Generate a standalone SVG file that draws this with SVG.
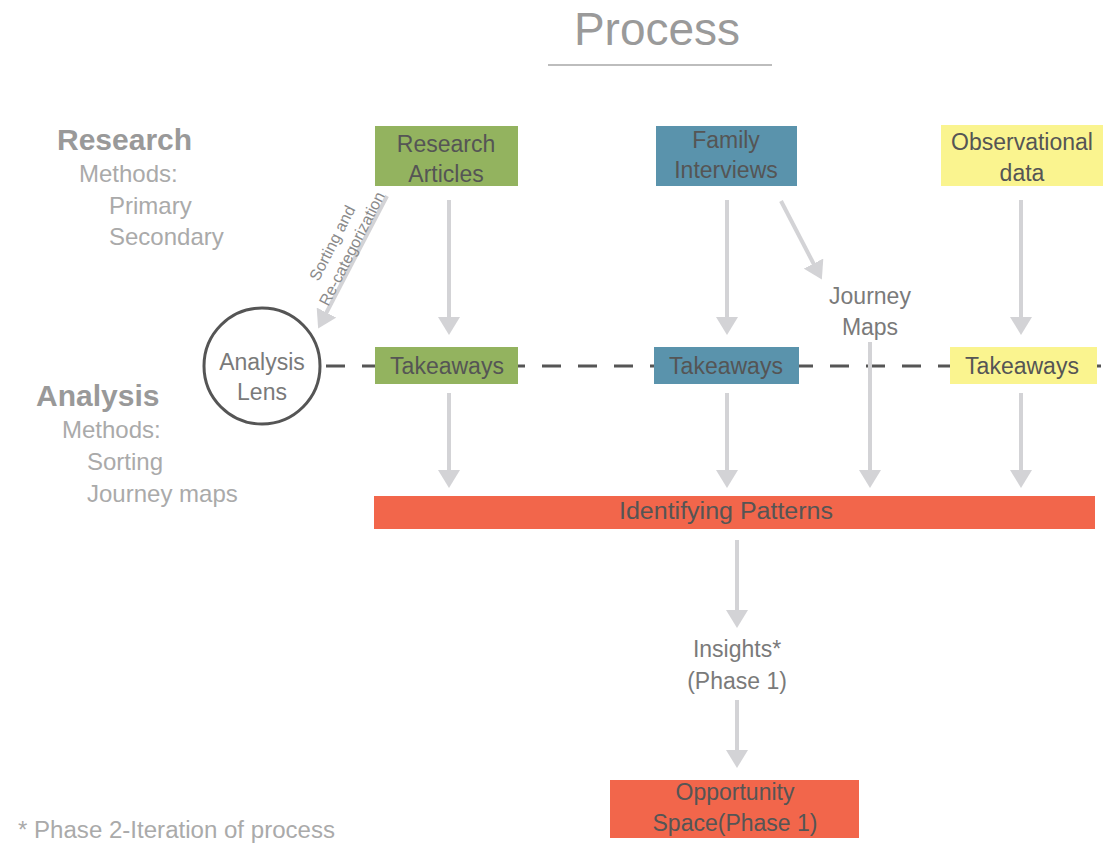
<svg xmlns="http://www.w3.org/2000/svg" width="1107" height="844" viewBox="0 0 1107 844">
<style>
text{font-family:"Liberation Sans",Arial,sans-serif}
.box{font-size:23px;fill:#555;text-anchor:middle}
.side{font-size:24px;fill:#aaa}
.head{font-size:30px;font-weight:bold;fill:#999}
.lbl{font-size:23px;fill:#7a7a7a;text-anchor:middle}
.arr{stroke:#d3d3d6;stroke-width:4;fill:none;marker-end:url(#ah)}
</style>
<defs>
<marker id="ah" markerUnits="userSpaceOnUse" viewBox="0 0 18 22" markerWidth="18" markerHeight="22" refX="14" refY="11" orient="auto">
<path d="M0,0 L18,11 L0,22 Z" fill="#d3d3d6"/>
</marker>
</defs>
<rect width="1107" height="844" fill="#fff"/>
<g id="title">
<text x="657" y="45" font-size="46" fill="#9a9a9a" text-anchor="middle">Process</text>
<line x1="548" y1="65" x2="772" y2="65" stroke="#bdbdbd" stroke-width="2"/>
</g>
<g id="legend-research">
<text class="head" x="57" y="150">Research</text>
<text class="side" x="79" y="182">Methods:</text>
<text class="side" x="109" y="214">Primary</text>
<text class="side" x="109" y="245">Secondary</text>
</g>
<g id="legend-analysis">
<text class="head" x="36" y="406">Analysis</text>
<text class="side" x="62" y="438">Methods:</text>
<text class="side" x="87" y="470">Sorting</text>
<text class="side" x="87" y="502">Journey maps</text>
</g>
<g id="connectors">
<line x1="326" y1="366" x2="1107" y2="366" stroke="#555" stroke-width="3" stroke-dasharray="19 17"/>
<line class="arr" x1="449" y1="200" x2="449" y2="331"/>
<line class="arr" x1="727" y1="200" x2="727" y2="331"/>
<line class="arr" x1="1021" y1="200" x2="1021" y2="331"/>
<line class="arr" x1="449" y1="393" x2="449" y2="484"/>
<line class="arr" x1="727" y1="393" x2="727" y2="484"/>
<line class="arr" x1="1021" y1="393" x2="1021" y2="484"/>
<line class="arr" x1="870" y1="342" x2="870" y2="484"/>
<line class="arr" x1="781" y1="201" x2="820" y2="276"/>
<line class="arr" x1="387" y1="196" x2="320" y2="325"/>
<line class="arr" x1="737" y1="540" x2="737" y2="624"/>
<line class="arr" x1="737" y1="700" x2="737" y2="764"/>
<g transform="translate(342,247) rotate(-63)" font-size="16" fill="#8a8a8a" text-anchor="middle">
<text x="-1" y="-5">Sorting and</text>
<text x="3" y="15">Re-categorization</text>
</g>
</g>
<g id="research-articles">
<rect x="375" y="126" width="143" height="60" fill="#93b35f"/>
<text class="box" x="446" y="152">Research</text>
<text class="box" x="446" y="182">Articles</text>
</g>
<g id="family-interviews">
<rect x="656" y="126" width="141" height="60" fill="#5a93ac"/>
<text class="box" x="726" y="148">Family</text>
<text class="box" x="726" y="178">Interviews</text>
</g>
<g id="observational-data">
<rect x="941" y="125" width="162" height="61" fill="#faf48f"/>
<text class="box" x="1022" y="150">Observational</text>
<text class="box" x="1022" y="181">data</text>
</g>
<g id="journey-maps">
<text class="lbl" x="870" y="304">Journey</text>
<text class="lbl" x="870" y="335">Maps</text>
</g>
<g id="analysis-lens">
<circle cx="262" cy="366" r="58" fill="#fff" stroke="#555" stroke-width="3"/>
<text class="lbl" x="262" y="370" fill="#6e6e6e">Analysis</text>
<text class="lbl" x="262" y="400" fill="#6e6e6e">Lens</text>
</g>
<g id="takeaways-1">
<rect x="375" y="347" width="143" height="37" fill="#93b35f"/>
<text class="box" x="447" y="374">Takeaways</text>
</g>
<g id="takeaways-2">
<rect x="654" y="347" width="145" height="37" fill="#5a93ac"/>
<text class="box" x="726" y="374">Takeaways</text>
</g>
<g id="takeaways-3">
<rect x="950" y="347" width="147" height="37" fill="#faf48f"/>
<text class="box" x="1022" y="374">Takeaways</text>
</g>
<g id="identifying-patterns">
<rect x="374" y="496" width="721" height="33" fill="#f2664b"/>
<text class="box" x="726" y="519" textLength="214" lengthAdjust="spacingAndGlyphs">Identifying Patterns</text>
</g>
<g id="insights">
<text class="lbl" x="737" y="657" fill="#8a8a8a">Insights*</text>
<text class="lbl" x="737" y="689" fill="#8a8a8a">(Phase 1)</text>
</g>
<g id="opportunity-space">
<rect x="610" y="780" width="249" height="58" fill="#f2664b"/>
<text class="box" x="735" y="800">Opportunity</text>
<text class="box" x="735" y="831">Space(Phase 1)</text>
</g>
<g id="footnote">
<text x="18" y="838" font-size="23" fill="#aaa" textLength="317" lengthAdjust="spacingAndGlyphs">* Phase 2-Iteration of process</text>
</g>
</svg>
